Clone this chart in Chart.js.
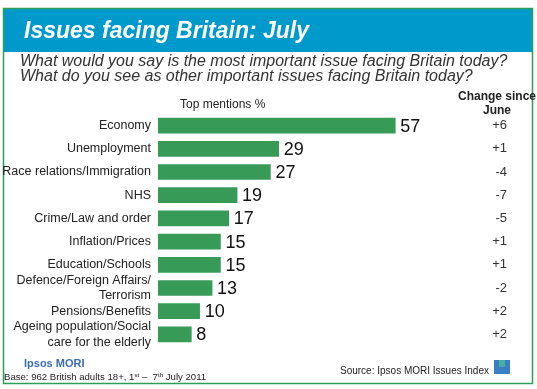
<!DOCTYPE html>
<html>
<head>
<meta charset="utf-8">
<script src="https://cdn.jsdelivr.net/npm/chart.js@4/dist/chart.umd.min.js"></script>
<style>
  body { margin: 0; background: #fff; }
  #wrap { width: 537px; height: 389px; position: relative; }
</style>
</head>
<body>
<div id="wrap"><canvas id="issuesChart"></canvas></div>
<script>
const categories = [
  'Economy',
  'Unemployment',
  'Race relations/Immigration',
  'NHS',
  'Crime/Law and order',
  'Inflation/Prices',
  'Education/Schools',
  ['Defence/Foreign Affairs/', 'Terrorism'],
  'Pensions/Benefits',
  ['Ageing population/Social', 'care for the elderly']
];
const mentions = [57, 29, 27, 19, 17, 15, 15, 13, 10, 8];
const changeSinceJune = ['+6', '+1', '-4', '-7', '-5', '+1', '+1', '-2', '+2', '+2'];

const FONT = '"Liberation Sans", Arial, sans-serif';

// writes text pieces in a row, small raised pieces for st/th
function writeRun(ctx, parts, x, y, size) {
  parts.forEach(([txt, sup]) => {
    ctx.font = (sup ? size * 0.65 : size) + 'px ' + FONT;
    ctx.fillText(txt, x, sup ? y - size * 0.35 : y);
    x += ctx.measureText(txt).width;
  });
}

// header, frame, notes and the two label columns
const decorations = {
  id: 'decorations',
  beforeDraw(chart) {
    const ctx = chart.ctx;
    ctx.save();
    ctx.fillStyle = '#fff';
    ctx.fillRect(0, 0, chart.width, chart.height);
    ctx.fillStyle = '#0099cc';
    ctx.fillRect(3, 9, 530, 43);
    ctx.strokeStyle = '#2f9e55';
    ctx.lineWidth = 1.5;
    ctx.strokeRect(3.5, 8.5, 529, 375);
    ctx.restore();
  },
  afterDraw(chart) {
    const ctx = chart.ctx;
    const x = chart.scales.x;
    const y = chart.scales.y;
    ctx.save();
    ctx.textBaseline = 'alphabetic';

    ctx.fillStyle = '#fff';
    ctx.font = 'italic bold 23px ' + FONT;
    ctx.fillText('Issues facing Britain: July', 24, 38);

    ctx.fillStyle = '#333';
    ctx.font = 'italic 16px ' + FONT;
    ctx.fillText('What would you say is the most important issue facing Britain today?', 20, 66);
    ctx.fillText('What do you see as other important issues facing Britain today?', 20, 81);

    ctx.fillStyle = '#222';
    ctx.font = '12px ' + FONT;
    ctx.fillText('Top mentions %', 180, 108);

    ctx.font = 'bold 12px ' + FONT;
    ctx.textAlign = 'center';
    ctx.fillText('Change since', 497, 100);
    ctx.fillText('June', 497, 114);

    ctx.textBaseline = 'middle';
    mentions.forEach((v, i) => {
      const py = y.getPixelForValue(i);
      ctx.fillStyle = '#111';
      ctx.font = '18px ' + FONT;
      ctx.textAlign = 'left';
      ctx.fillText(String(v), x.getPixelForValue(v) + 5, py + 1);
      ctx.fillStyle = '#333';
      ctx.font = '13px ' + FONT;
      ctx.textAlign = 'right';
      ctx.fillText(changeSinceJune[i], 507, py);
    });

    ctx.textBaseline = 'alphabetic';
    ctx.textAlign = 'left';
    ctx.fillStyle = '#3a6db5';
    ctx.font = 'bold 11px ' + FONT;
    ctx.fillText('Ipsos MORI', 24, 367);
    ctx.fillStyle = '#222';
    writeRun(ctx, [['Base: 962 British adults 18+, 1'], ['st', true], [' \u2013  7'], ['th', true], [' July 2011']], 4, 380, 9.6);
    ctx.font = '10px ' + FONT;
    ctx.fillText('Source: Ipsos MORI Issues Index', 340, 374);

    ctx.fillStyle = '#3a7fc4';
    ctx.fillRect(494, 360, 16, 14);
    ctx.fillStyle = '#45b0a0';
    ctx.fillRect(499, 360, 6, 7);
    ctx.restore();
  }
};

new Chart(document.getElementById('issuesChart'), {
  type: 'bar',
  data: {
    labels: categories,
    datasets: [{
      label: 'Top mentions %',
      data: mentions,
      backgroundColor: '#379b57',
      barThickness: 15
    }]
  },
  options: {
    indexAxis: 'y',
    responsive: true,
    maintainAspectRatio: false,
    animation: false,
    layout: { padding: { top: 114, bottom: 43, left: 0, right: 46 } },
    plugins: { legend: { display: false }, title: { display: false }, tooltip: { enabled: false } },
    scales: {
      x: { min: 0, max: 80, display: false },
      y: {
        grid: { display: false, drawTicks: false },
        border: { display: false },
        ticks: { color: '#222', autoSkip: false, font: { family: FONT, size: 12.5, lineHeight: 1.25 }, padding: 7 },
        afterFit(scale) { scale.width = 158; }
      }
    }
  },
  plugins: [decorations]
});
</script>
</body>
</html>
